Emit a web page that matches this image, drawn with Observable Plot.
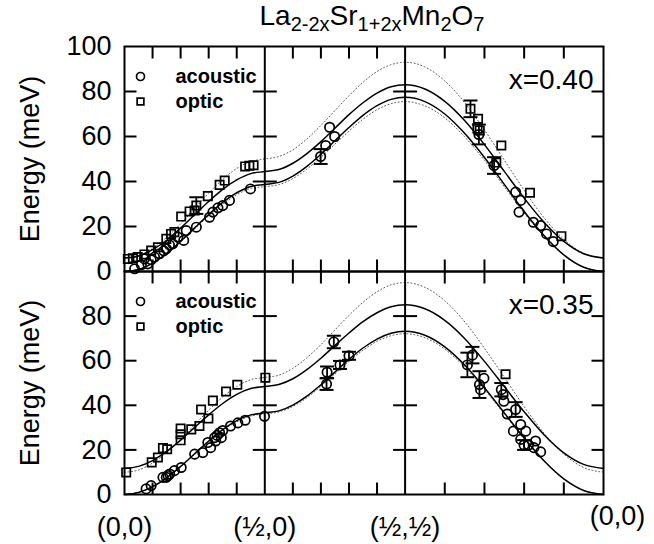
<!DOCTYPE html>
<html><head><meta charset="utf-8">
<script src="https://cdn.jsdelivr.net/npm/d3@7"></script>
<script src="https://cdn.jsdelivr.net/npm/@observablehq/plot@0.6"></script>
<style>
body{margin:0;background:#fff;}
#wrap{position:relative;width:654px;height:544px;font-family:"Liberation Sans",Arial,sans-serif;overflow:hidden;}
#wrap svg{position:absolute;left:0;top:0;}
#title{position:absolute;left:122px;width:500px;top:0px;text-align:center;font-size:28px;color:#000;}
#title sub{font-size:20px;vertical-align:-6px;line-height:0;}
</style></head><body>
<div id="wrap"><div id="title">La<sub>2-2x</sub>Sr<sub>1+2x</sub>Mn<sub>2</sub>O<sub>7</sub></div></div>
<script>
// path coordinate: (0,0)->(1/2,0) [0..0.5], (1/2,0)->(1/2,1/2) [0.5..1], (1/2,1/2)->(0,0) [1..1.7071]
const pathX = [0,0.05,0.1,0.15,0.2,0.25,0.3,0.35,0.4,0.45,0.5,0.55,0.6,0.65,0.7,0.75,0.8,0.85,0.9,0.95,1.0,1.0707,1.1414,1.2121,1.2828,1.3536,1.4243,1.4950,1.5657,1.6364,1.7071];

const topAcousticLine = [0,0.9,3.7,8.0,13.4,19.4,25.3,30.7,35.0,37.8,38.7,39.6,42.4,46.7,52.1,58.1,64.0,69.4,73.7,76.5,77.4,75.5,70.0,61.4,50.7,38.7,26.7,16.0,7.4,1.9,0];
const topOpticLine = [6,6.9,9.7,13.9,19.3,25.2,31.1,36.5,40.7,43.5,44.4,45.3,48.1,52.4,57.7,63.7,69.7,75.0,79.3,82.1,83.0,81.1,75.6,67.1,56.4,44.5,32.6,21.9,13.4,7.9,6];
const topOpticDotted = [6,7.1,10.2,15.1,21.2,28,34.8,40.9,45.8,48.9,50,51.1,54.1,58.9,64.9,71.5,78.1,84.1,88.9,91.9,93,90.9,84.7,75.1,62.9,49.5,36.1,23.9,14.3,8.1,6];
const topAcousticDotted = [0,0.9,3.6,7.8,13.1,18.9,24.7,29.9,34.1,36.9,37.7,38.6,41.3,45.5,50.8,56.6,62.4,67.7,71.9,74.6,75.5,73.6,68.3,59.9,49.4,37.7,26.0,15.6,7.2,1.9,0];

const bottomAcousticLine = [0,0.9,3.5,7.5,12.6,18.3,24.0,29.1,33.1,35.7,36.6,37.5,40.1,44.1,49.2,54.9,60.6,65.7,69.7,72.3,73.2,71.4,66.2,58.1,47.9,36.6,25.3,15.1,7.0,1.8,0];
const bottomOpticLine = [11.7,12.6,15.2,19.3,24.4,30.1,35.7,40.8,44.9,47.5,48.4,49.3,51.9,56.0,61.1,66.8,72.4,77.5,81.5,84.2,85.1,83.3,78.1,70.0,59.7,48.4,37.1,26.8,18.7,13.5,11.7];
const bottomOpticDotted = [10,11.0,14.1,18.8,24.7,31.3,37.8,43.7,48.4,51.5,52.5,53.5,56.6,61.3,67.2,73.8,80.3,86.2,90.9,94.0,95.0,92.9,86.9,77.5,65.6,52.5,39.4,27.5,18.1,12.1,10];
const bottomAcousticDotted = [0,0.9,3.4,7.4,12.4,18.0,23.6,28.7,32.6,35.2,36.1,37.0,39.5,43.4,48.5,54.1,59.7,64.7,68.7,71.2,72.1,70.3,65.2,57.2,47.2,36.1,24.9,14.9,6.9,1.8,0];

// measured points: [path position, energy (meV), error (0 = none)]
const topAcoustic = [[0.036,1.2,0],[0.06,3.0,0],[0.071,5.6,0],[0.083,3.4,0],[0.095,5.2,0],[0.107,6.4,0],[0.125,7.9,0],[0.14,9.2,0],[0.149,10.1,0],[0.16,11.8,0],[0.172,12.3,0],[0.19,15.3,0],[0.211,13.8,0],[0.22,18.2,0],[0.256,19.7,0],[0.303,24.1,0],[0.315,26.4,0],[0.333,28.3,0],[0.35,29.3,0],[0.374,31.6,0],[0.449,36.7,0],
  [0.699,51.1,3.3],[0.717,56.0,0],[0.731,64.1,0],[0.749,60.0,0],
  [1.263,60.9,4.4],[1.317,47.1,3.7],[1.394,35.3,0],[1.412,31.6,0],[1.406,26.4,0],[1.457,21.9,0],[1.483,20.4,0],[1.504,16.7,0],[1.528,13.3,0]];
const topOptic = [[0.012,5.6,0],[0.03,5.9,0],[0.047,6.4,0],[0.071,7.6,0],[0.095,9.3,0],[0.119,10.8,0],[0.149,14.5,0],[0.166,16.7,0],[0.178,17.5,0],[0.202,24.4,0],[0.232,26.7,0],[0.256,29.3,3.7],[0.25,27.1,0],[0.297,33.5,0],[0.339,38.5,0],[0.357,40.4,0],[0.43,46.7,0],[0.445,47.0,0],[0.46,47.2,0],
  [1.233,72.3,3.7],[1.26,67.9,0],[1.266,62.7,0],[1.258,63.5,0],[1.343,56.0,0],[1.325,48.4,0],[1.445,35.0,0],[1.557,15.7,0]];
const bottomAcoustic = [[0.077,2.5,0],[0.095,4.0,0],[0.137,7.7,0],[0.149,7.7,0],[0.155,8.5,0],[0.161,9.2,0],[0.178,10.7,0],[0.202,12.1,0],[0.25,18.1,0],[0.279,18.8,0],[0.297,23.3,0],[0.307,21.0,0],[0.321,25.5,0],[0.325,24.0,0],[0.33,26.5,0],[0.339,27.7,0],[0.345,25.5,0],[0.35,28.7,0],[0.378,30.7,0],[0.404,32.1,0],[0.43,33.3,0],[0.499,35.1,0],
  [0.72,49.5,2.6],[0.722,54.8,2.6],[0.746,68.4,2.8],[0.768,58.1,1.8],[0.8,62.2,1.8],
  [1.222,58.1,5.5],[1.24,62.5,3.7],[1.265,49.3,6.0],[1.269,47.0,0],[1.281,52.1,0],[1.343,47.0,3.0],[1.349,44.8,0],[1.352,41.8,0],[1.364,36.1,0],[1.394,38.1,3.3],[1.386,28.4,0],[1.412,31.4,0],[1.412,24.7,0],[1.424,22.2,2.2],[1.43,28.4,0],[1.44,22.2,0],[1.459,21.0,0],[1.465,24.0,0],[1.483,19.1,0]];
const bottomOptic = [[0.006,9.9,0],[0.097,14.4,0],[0.119,16.6,0],[0.137,20.8,0],[0.152,20.3,0],[0.2,24.3,0],[0.2,27.0,0],[0.2,29.6,0],[0.238,29.2,0],[0.267,30.7,0],[0.273,38.1,0],[0.299,34.1,0],[0.315,42.1,0],[0.362,46.2,0],[0.402,49.2,0],[0.502,52.4,0],[1.358,53.9,0]];

const dividers = [0.5, 1.0];
const xTicks = [0.1,0.2,0.3,0.4,0.6,0.7,0.8,0.9,1.1414,1.2828,1.4243,1.5657];
const yTicks = [20,40,60,80];
const topYLabels = [0,20,40,60,80,100];
const bottomYLabels = [0,20,40,60,80];
const xLabelPos = [0,0.5,1.0,1.7071];
const xLabels = ["(0,0)","(½,0)","(½,½)","(0,0)"];
const seriesNames = ["acoustic","optic"];
const panelLabels = ["x=0.40","x=0.35"];
const yTitle = "Energy (meV)";

const seg = (a,b,c,d) => ({draw(ctx){ctx.moveTo(a,b);ctx.lineTo(c,d);}});
const tickDown = seg(0,0,0,12), tickUp = seg(0,0,0,-12);
const tickRight = seg(0,0,12,0), tickLeft = seg(0,0,-12,0), tickBoth = seg(-12,0,12,0);
const cap = seg(-7,0,7,0);
const tk = {stroke:"black", fill:"none", strokeWidth:2};

function panel({mTop, mBottom, lines, dotted, acoustic, optic, yLabels, label, showX}) {
  const errs = [...acoustic, ...optic].filter(d => d[2] > 0);
  const divTicks = dividers.flatMap(x => yTicks.map(y => [x, y]));
  const marks = [
    ...dotted.map(v => Plot.line(v, {x: (d,i) => pathX[i], y: d => d, curve: "monotone-x", stroke: "#555", strokeWidth: 1, strokeDasharray: "1,2.5"})),
    ...lines.map(v => Plot.line(v, {x: (d,i) => pathX[i], y: d => d, curve: "monotone-x", stroke: "black", strokeWidth: 1.5})),
    Plot.ruleX(errs, {x: d => d[0], y1: d => d[1]-d[2], y2: d => d[1]+d[2], stroke:"black", strokeWidth:1.8}),
    Plot.dot(errs, {x: d => d[0], y: d => d[1]-d[2], symbol: cap, ...tk}),
    Plot.dot(errs, {x: d => d[0], y: d => d[1]+d[2], symbol: cap, ...tk}),
    Plot.dot(acoustic, {x: d => d[0], y: d => d[1], r: 4.7, stroke:"black", fill:"none", strokeWidth:1.7}),
    Plot.dot(optic, {x: d => d[0], y: d => d[1], symbol:"square", r: 4.7, stroke:"black", fill:"none", strokeWidth:1.7}),
    Plot.frame({stroke:"black", strokeWidth:2}),
    Plot.ruleX(dividers, {stroke:"black", strokeWidth:2}),
    Plot.dot(xTicks, {x: d => d, frameAnchor:"top", symbol: tickDown, ...tk}),
    Plot.dot(xTicks, {x: d => d, frameAnchor:"bottom", symbol: tickUp, ...tk}),
    Plot.dot(yTicks, {y: d => d, frameAnchor:"left", symbol: tickRight, ...tk}),
    Plot.dot(yTicks, {y: d => d, frameAnchor:"right", symbol: tickLeft, ...tk}),
    Plot.dot(divTicks, {x: d => d[0], y: d => d[1], symbol: tickBoth, ...tk}),
    Plot.text(yLabels, {y: d => d, text: d => String(d), frameAnchor:"left", dx:-13, textAnchor:"end", lineAnchor:"middle", fontSize:27}),
    Plot.text([yTitle], {text: d => d, frameAnchor:"left", dx:-94, rotate:-90, textAnchor:"middle", lineAnchor:"middle", fontSize:27}),
    // legend
    Plot.dot([0], {frameAnchor:"top-left", dx:16, dy:30, r:4, stroke:"black", fill:"none", strokeWidth:1.7}),
    Plot.dot([0], {frameAnchor:"top-left", dx:16, dy:55, r:3.8, symbol:"square", stroke:"black", fill:"none", strokeWidth:1.7}),
    Plot.text([seriesNames[0]], {text: d => d, frameAnchor:"top-left", dx:51, dy:30, textAnchor:"start", lineAnchor:"middle", fontWeight:"bold", fontSize:20}),
    Plot.text([seriesNames[1]], {text: d => d, frameAnchor:"top-left", dx:51, dy:55, textAnchor:"start", lineAnchor:"middle", fontWeight:"bold", fontSize:20}),
    Plot.text([label], {text: d => d, frameAnchor:"top-right", dx:-10, dy:34, textAnchor:"end", lineAnchor:"middle", fontSize:28})
  ];
  if (showX) {
    marks.push(Plot.text(xLabelPos.slice(0,3), {x: d => d, text: (d,i) => xLabels[i], frameAnchor:"bottom", dy:33, lineAnchor:"middle", fontSize:27}));
    marks.push(Plot.text(xLabelPos.slice(3), {x: d => d, text: () => xLabels[3], frameAnchor:"bottom", dy:22, dx:14, lineAnchor:"middle", fontSize:27}));
  }
  return Plot.plot({
    width: 654, height: 544,
    marginLeft: 124, marginRight: 51, marginTop: mTop, marginBottom: mBottom,
    x: {domain: [0, 1.7071], axis: null},
    y: {domain: [0, 100], axis: null},
    style: {fontFamily: '"Liberation Sans", Arial, sans-serif', background: "transparent", color: "black", overflow: "visible"},
    marks
  });
}

const wrap = document.getElementById("wrap");
wrap.appendChild(panel({mTop:46, mBottom:544-271, lines:[topAcousticLine, topOpticLine], dotted:[topAcousticDotted, topOpticDotted], acoustic: topAcoustic, optic: topOptic, yLabels: topYLabels, label: panelLabels[0], showX:false}));
wrap.appendChild(panel({mTop:271, mBottom:544-494, lines:[bottomAcousticLine, bottomOpticLine], dotted:[bottomAcousticDotted, bottomOpticDotted], acoustic: bottomAcoustic, optic: bottomOptic, yLabels: bottomYLabels, label: panelLabels[1], showX:true}));
</script>
</body></html>
